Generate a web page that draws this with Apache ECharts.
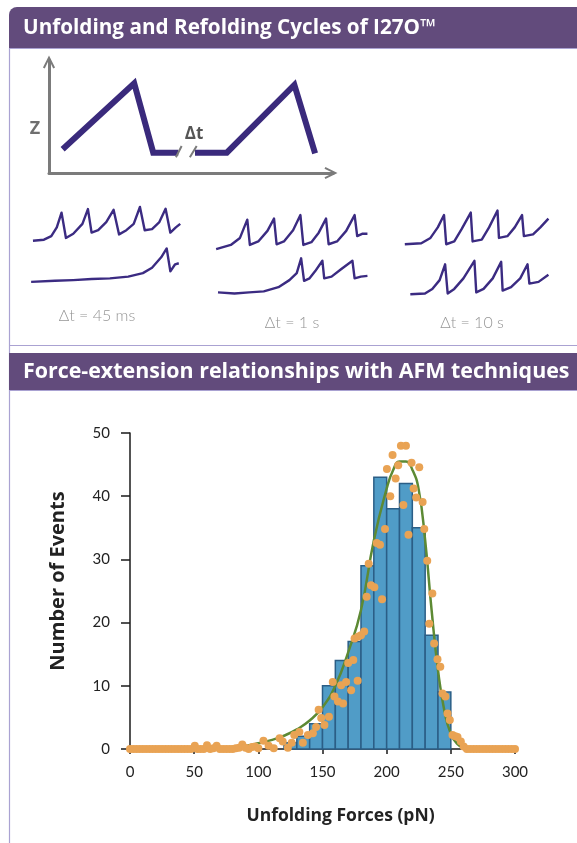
<!DOCTYPE html>
<html>
<head>
<meta charset="utf-8">
<script src="https://cdn.jsdelivr.net/npm/echarts@6/dist/echarts.min.js"></script>
<style>
html,body{margin:0;padding:0;background:#fff;}
#chart{width:577px;height:843px;}
</style>
</head>
<body>
<div id="chart"></div>
<script>
// ---------- Text ----------
const headerTop = 'Unfolding and Refolding Cycles of I27O™';
const headerBottom = 'Force-extension relationships with AFM techniques';
const traceLabels = ['Δt = 45 ms', 'Δt = 1 s', 'Δt = 10 s'];

// ---------- Schematic (arbitrary units 0..100) ----------
const schemA = [[4.8, 21], [30, 79.4], [36.7, 18], [45.5, 18]];
const schemB = [[51.4, 18], [62.6, 18], [86.4, 77.9], [93.7, 17.4]];
const breakMarks = [[44.7, 13.9], [46.7, 23.9], null, [49.6, 13.9], [52, 23.9]];

// ---------- Force traces (panel units) ----------
const trace45Top = [[90,148],[120,145],[140,135],[155,110],[168,68],[180,140],[200,128],[225,100],[240,58],[250,125],[268,118],[290,95],[310,60],[325,130],[345,118],[365,100],[382,52],[395,118],[415,115],[435,95],[452,57],[465,125],[480,110],[492,100]];
const trace45Bottom = [[85,265],[150,262],[200,260],[250,257],[300,255],[350,250],[390,240],[415,225],[440,195],[455,170],[465,235],[478,215],[488,212]];
const trace1Top = [[590,172],[630,160],[655,140],[675,88],[682,160],[705,150],[730,120],[748,85],[755,158],[775,150],[800,118],[820,75],[828,160],[850,152],[870,125],[890,85],[897,158],[920,150],[945,120],[968,75],[975,135],[990,128],[1003,128]];
const trace1Bottom = [[595,295],[640,298],[680,295],[720,292],[760,280],[790,260],[810,240],[822,198],[830,262],[845,255],[860,235],[880,205],[885,255],[905,250],[930,230],[962,205],[968,255],[985,250],[1003,248]];
const trace10Top = [[1105,158],[1150,155],[1175,140],[1195,110],[1212,75],[1218,158],[1240,150],[1260,115],[1285,68],[1290,150],[1315,145],[1335,110],[1358,62],[1362,140],[1385,135],[1405,110],[1425,75],[1430,135],[1455,130],[1475,110],[1497,85]];
const trace10Bottom = [[1120,300],[1160,298],[1180,285],[1200,260],[1215,215],[1222,298],[1240,285],[1265,255],[1295,205],[1300,295],[1320,285],[1345,255],[1368,208],[1372,290],[1395,280],[1420,255],[1440,215],[1445,270],[1470,265],[1497,245]];

// ---------- Histogram ----------
const xTicks = [0, 50, 100, 150, 200, 250, 300];
const yTicks = [0, 10, 20, 30, 40, 50];
const binStarts = [120, 130, 140, 150, 160, 170, 180, 190, 200, 210, 220, 230, 240];
const binWidth = 10;
const binCounts = [1, 2, 4, 10, 14, 17, 29, 43, 38, 42, 35, 18, 9];

const curveX = [0, 40, 60, 70, 80, 90, 100, 110, 120, 130, 140, 150, 160, 170, 180, 190, 200, 205, 210, 215, 220, 225, 230, 235, 240, 245, 250, 255, 260, 265, 280, 300];
const curveY = [0, 0, 0.05, 0.15, 0.3, 0.5, 0.9, 1.4, 2.1, 3.1, 4.5, 6.6, 10, 15.3, 22, 33, 41.2, 44.1, 45.5, 45.5, 44.2, 41, 33, 22, 12.5, 6, 2.4, 0.8, 0.15, 0, 0, 0];

const scatterX = [0,2.5,5,7.5,10,12.5,15,17.5,20,22.5,25,27.5,30,32.5,35,37.5,40,42.5,45,47.5,
  50.5,52.5,55,57.5,60,62.5,65,67.5,70,72.5,75,77.5,80,82.5,85,87.5,90,92.5,95,97.5,100,
  104,108,112,116.6,119,123,126,128,132,134.7,138.6,142.5,145,147,149,151.5,155,158,159.3,162,164.5,166,168.4,170,172.3,174,175,177.4,178,180,182.5,184.4,186,187.8,190.4,192.2,194.8,196.4,198.7,200.2,202.8,204.6,207,209,211.1,213,215,217,219.4,221,223,225.4,228,229.3,231.6,233.2,235.6,237,239.6,241.8,243.5,245.8,247.4,249.2,251.3,253.5,255.2,257.8,260,
  262.5,265,267.5,270,272.5,275,277.5,280,282.5,285,287.5,290,292.5,295,297.5,300,302.5];
const scatterY = [0,0,0,0,0,0,0,0,0,0,0,0,0,0,0,0,0,0,0,0,
  0.5,0,0,0,0.6,0,0.1,0.5,0,0,0,0,0,0.1,0.2,0.7,0.2,0,0.3,0.4,0.1,
  1.3,0.5,0.1,1.7,1.2,0.2,1.0,2.2,2.7,1.0,2.2,2.5,3.5,6.2,4.9,3.8,5.1,10.6,8.3,7.5,10.1,7.2,10.6,13.6,9.3,14.1,17.5,10.8,17.8,18.0,18.6,24.1,29.3,25.9,25.6,32.6,32.3,23.7,34.8,44.3,40,46.5,42.8,44.9,48.0,38.6,48.0,33.9,45.3,41.2,39.8,44.6,39.1,34.8,29.8,19.8,24.6,16.7,14.2,13,8.8,8.3,5.6,4.6,2.2,2.0,1.9,1.2,0.4,
  0,0,0,0,0,0,0,0,0,0,0,0,0,0,0,0,0];

// ---------- Build ----------
const purple = '#624b7c';
const lav = '#aaa2d2';
const traceColor = '#3b2b82';
const chevron = 'path://M0,12 L6,0 L12,12 L10.2,12.9 L6,4.2 L1.8,12.9 Z';
const pair = (xs, ys) => xs.map((x, i) => [x, ys[i]]);
const bins = binStarts.map((b, i) => [b, b + binWidth, binCounts[i]]);

const hiddenAxis = (gi, min, max, extra) => Object.assign({
  type: 'value', gridIndex: gi, min: min, max: max,
  axisLine: {show: false}, axisTick: {show: false}, axisLabel: {show: false}, splitLine: {show: false}
}, extra || {});

const arrowLine = {show: true, symbol: ['none', chevron], symbolSize: [15, 13], symbolOffset: [0, -2], lineStyle: {color: '#7b7b7b', width: 3}};

const traceLine = (data) => ({
  type: 'line', xAxisIndex: 1, yAxisIndex: 1, data: data, showSymbol: false, silent: true,
  lineStyle: {color: traceColor, width: 2.4, join: 'round'}, itemStyle: {color: traceColor}
});

const chart = echarts.init(document.getElementById('chart'), null, {renderer: 'canvas'});
chart.setOption({
  animation: false,
  backgroundColor: '#ffffff',
  textStyle: {fontFamily: 'Lato, "Open Sans", sans-serif'},
  grid: [
    {left: 49, top: 60, width: 284, height: 113},
    {left: 0, top: 188.7, width: 577, height: 109},
    {left: 130, top: 433, width: 385, height: 316}
  ],
  xAxis: [
    hiddenAxis(0, 0, 100, {axisLine: arrowLine}),
    hiddenAxis(1, 0, 1575),
    {
      type: 'value', gridIndex: 2, min: xTicks[0], max: xTicks[xTicks.length - 1], interval: xTicks[1] - xTicks[0],
      axisLine: {show: true, onZero: false, lineStyle: {color: '#1a1a1a', width: 1.5}},
      axisTick: {show: true, length: 5, lineStyle: {color: '#1a1a1a', width: 1.5}},
      axisLabel: {color: '#222', fontSize: 15, margin: 16, fontFamily: 'Lato'},
      splitLine: {show: false},
      name: 'Unfolding Forces (pN)', nameLocation: 'middle', nameGap: 58,
      nameTextStyle: {fontSize: 17.5, fontWeight: 'bold', color: '#222', fontFamily: '"Open Sans"', padding: [0, 0, 0, 36]}
    }
  ],
  yAxis: [
    hiddenAxis(0, 0, 100, {axisLine: arrowLine}),
    hiddenAxis(1, 0, 310, {inverse: true}),
    {
      type: 'value', gridIndex: 2, min: yTicks[0], max: yTicks[yTicks.length - 1], interval: yTicks[1] - yTicks[0],
      axisLine: {show: true, lineStyle: {color: '#1a1a1a', width: 1.5}},
      axisTick: {show: true, length: 9, lineStyle: {color: '#1a1a1a', width: 1.5}},
      axisLabel: {color: '#222', fontSize: 15, margin: 20, fontFamily: 'Lato'},
      splitLine: {show: false},
      name: 'Number of Events', nameLocation: 'middle', nameGap: 62, nameRotate: 90,
      nameTextStyle: {fontSize: 20, fontWeight: 'bold', color: '#222', fontFamily: '"Open Sans"', padding: [0, 0, 0, 20]}
    }
  ],
  series: [
    {type: 'line', xAxisIndex: 0, yAxisIndex: 0, data: schemA, showSymbol: false, silent: true,
      lineStyle: {color: '#3a2a7c', width: 6, cap: 'butt', join: 'miter'}},
    {type: 'line', xAxisIndex: 0, yAxisIndex: 0, data: schemB, showSymbol: false, silent: true,
      lineStyle: {color: '#3a2a7c', width: 6, cap: 'butt', join: 'miter'}},
    {type: 'line', xAxisIndex: 0, yAxisIndex: 0, data: breakMarks.map(p => p || ['-', '-']), showSymbol: false, silent: true, connectNulls: false,
      lineStyle: {color: '#7b7b7b', width: 2}, z: 5},
    traceLine(trace45Top), traceLine(trace45Bottom),
    traceLine(trace1Top), traceLine(trace1Bottom),
    traceLine(trace10Top), traceLine(trace10Bottom),
    {
      type: 'custom', xAxisIndex: 2, yAxisIndex: 2, data: bins, z: 2, silent: true,
      renderItem: function (params, api) {
        const p0 = api.coord([api.value(0), api.value(2)]);
        const p1 = api.coord([api.value(1), 0]);
        return {type: 'rect', shape: {x: p0[0], y: p0[1], width: p1[0] - p0[0], height: p1[1] - p0[1]},
          style: {fill: '#509cc7', stroke: '#2b5e86', lineWidth: 1.5}};
      }
    },
    {type: 'line', xAxisIndex: 2, yAxisIndex: 2, data: pair(curveX, curveY), smooth: 0.5,
      showSymbol: false, silent: true, z: 3, lineStyle: {color: '#5d8a34', width: 2.5}},
    {type: 'scatter', xAxisIndex: 2, yAxisIndex: 2, data: pair(scatterX, scatterY), symbolSize: 8, z: 4, silent: true,
      itemStyle: {color: '#e9a354', opacity: 1}}
  ],
  graphic: [
    {type: 'rect', shape: {x: 9, y: 7, width: 568, height: 41, r: [8, 0, 0, 0]}, style: {fill: purple}, z: 10},
    {type: 'text', x: 23, y: 28, style: {text: headerTop, fill: '#fff', font: 'bold 20.7px "Open Sans"', verticalAlign: 'middle'}, z: 11},
    {type: 'line', shape: {x1: 9, y1: 48.5, x2: 577, y2: 48.5}, style: {stroke: lav, lineWidth: 1}, z: 10},
    {type: 'line', shape: {x1: 9.5, y1: 48, x2: 9.5, y2: 843}, style: {stroke: lav, lineWidth: 1.2}, z: 10},
    {type: 'line', shape: {x1: 9, y1: 345.5, x2: 577, y2: 345.5}, style: {stroke: lav, lineWidth: 1}, z: 10},
    {type: 'rect', shape: {x: 9, y: 353, width: 568, height: 37}, style: {fill: purple}, z: 10},
    {type: 'line', shape: {x1: 9, y1: 390.5, x2: 577, y2: 390.5}, style: {stroke: lav, lineWidth: 1}, z: 10},
    {type: 'text', x: 23, y: 372, style: {text: headerBottom, fill: '#fff', font: 'bold 21.4px "Open Sans"', verticalAlign: 'middle'}, z: 11},
    {type: 'text', x: 35, y: 129, style: {text: 'Z', fill: '#6f6f6f', font: 'bold 18px "Open Sans"', align: 'center', verticalAlign: 'middle'}, z: 11},
    {type: 'text', x: 194, y: 134, style: {text: 'Δt', fill: '#555', font: 'bold 17px "Open Sans"', align: 'center', verticalAlign: 'middle'}, z: 11},
    {type: 'text', x: 97, y: 316, style: {text: traceLabels[0], fill: '#959595', font: '300 16px Lato', align: 'center', verticalAlign: 'middle'}, z: 11},
    {type: 'text', x: 292, y: 323, style: {text: traceLabels[1], fill: '#959595', font: '300 16px Lato', align: 'center', verticalAlign: 'middle'}, z: 11},
    {type: 'text', x: 472, y: 323, style: {text: traceLabels[2], fill: '#959595', font: '300 16px Lato', align: 'center', verticalAlign: 'middle'}, z: 11}
  ]
});
</script>
</body>
</html>
